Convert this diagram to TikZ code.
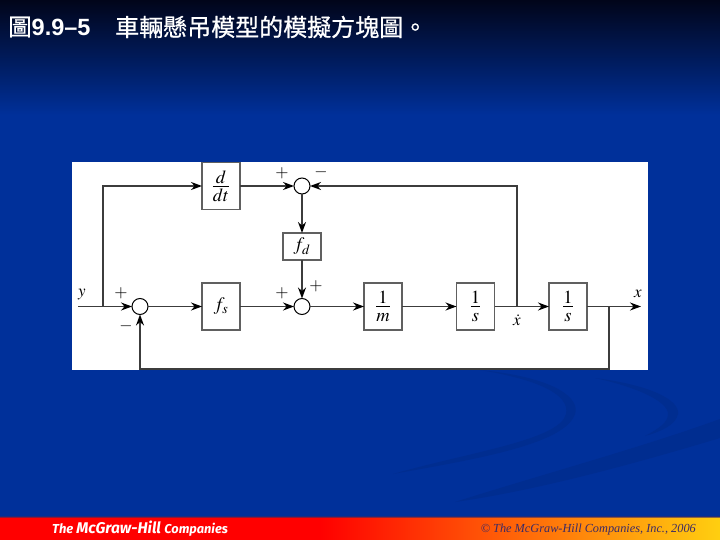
\documentclass[tikz,border=0pt]{standalone}
\usepackage{amsmath,amssymb}
\usepackage{mathptmx}
\usepackage{xcolor}
\usepackage{fontspec}
\newfontfamily\cjk[FakeBold=0.7]{Noto Sans CJK TC}
\newfontfamily\arialfont{Liberation Sans}
\newfontfamily\logofont{Fira Sans}
\newfontfamily\copyfont{Liberation Serif}
\usetikzlibrary{arrows.meta}
\definecolor{slideblue}{HTML}{00309A}
\definecolor{swooshblue}{HTML}{002D90}
\definecolor{slidenavy}{HTML}{01051A}
\definecolor{linegray}{HTML}{3C3C3C}
\definecolor{boxgray}{HTML}{606060}
\definecolor{barend}{HTML}{FFCF10}
\definecolor{copyink}{HTML}{3B2A66}
\tikzset{
    blockbox/.style={draw=boxgray, line width=1.2pt, fill=white, minimum width=38pt, minimum height=47pt, inner sep=0pt, outer sep=0pt, font=\fontsize{19}{22}\selectfont},
    fracbox/.style={blockbox, font=\fontsize{25}{28}\selectfont},
    sumcircle/.style={circle, draw=black, line width=1pt, fill=white, minimum size=16pt, inner sep=0pt, outer sep=0pt},
    sig/.style={draw=linegray, line width=1.6pt, -{Stealth[length=11pt,width=8pt,color=black]}},
    wire/.style={draw=linegray, line width=1.6pt},
    signtext/.style={font=\fontsize{17}{18}\selectfont, text=black, inner sep=0pt},
    varlabel/.style={font=\fontsize{17}{20}\selectfont, text=black, inner sep=0pt}
}
\begin{document}
\begin{tikzpicture}[x=1pt,y=-1pt]
    \useasboundingbox (0,0) rectangle (720,540);
    % slide background
    \fill[slideblue] (0,0) rectangle (720,540);
    \shade[top color=slidenavy, bottom color=slideblue] (0,0) rectangle (720,115);
    \fill[swooshblue] (480,370) .. controls (560,378) and (580,400) .. (575,414)
        .. controls (565,445) and (470,460) .. (393,474)
        .. controls (470,452) and (560,440) .. (566,414)
        .. controls (570,395) and (540,380) .. (480,370);
    \fill[swooshblue] (595,378) .. controls (650,385) and (680,400) .. (678,414)
        .. controls (676,425) and (660,432) .. (645,436)
        .. controls (660,428) and (668,422) .. (668,414)
        .. controls (668,402) and (640,388) .. (595,378);
    \fill[swooshblue] (720,419) .. controls (640,448) and (540,475) .. (455,502)
        .. controls (540,490) and (640,462) .. (720,438) -- cycle;
    % bottom bar
    \fill[red] (0,517) rectangle (320,540);
    \shade[left color=red, right color=barend] (320,517) rectangle (720,540);
    \fill[copyink, opacity=0.6] (0,516) rectangle (720,517.5);
    \node[font=\logofont\bfseries\itshape\fontsize{13}{15}\selectfont, text=white, anchor=west, inner sep=0pt] (logo) at (52,528.5) {The \fontsize{15.5}{15}\selectfont McGraw-Hill \fontsize{12.8}{15}\selectfont Companies};
    \node[font=\copyfont\itshape\fontsize{12.3}{14}\selectfont, text=copyink, anchor=east, inner sep=0pt] (copy) at (696,530) {© The McGraw-Hill Companies, Inc., 2006};
    % title
    \node[font=\fontsize{23.5}{26}\selectfont, text=white, anchor=west, inner sep=0pt] (title) at (8,27) {\cjk 圖\arialfont\bfseries\fontsize{23.5}{26}\selectfont 9.9–5};
    \node[font=\cjk\fontsize{24}{26}\selectfont, text=white, anchor=west, inner sep=0pt] (caption) at (115,27) {車輛懸吊模型的模擬方塊圖。};
    % white panel
    \fill[white] (72,162) rectangle (648,370);
    % blocks
    \node[fracbox] (ddt) at (221,186) {$\frac{d}{dt}$};
    \node[blockbox, minimum height=27pt] (fd) at (302,246.5) {$f_d$};
    \node[blockbox] (fs) at (221,306.5) {$f_s$};
    \node[fracbox] (mass) at (383,306.5) {$\frac{1}{m}$};
    \node[fracbox] (intv) at (475.5,306.5) {$\frac{1}{s}$};
    \node[fracbox] (intx) at (568,306.5) {$\frac{1}{s}$};
    \node[sumcircle] (sume) at (140,306.5) {};
    \node[sumcircle] (sumf) at (302,306.5) {};
    \node[sumcircle] (sumd) at (302,186) {};
    % branch points
    \coordinate (yin) at (78,306.5);
    \coordinate (ybr) at (103,306.5);
    \coordinate (vbr) at (517,306.5);
    \coordinate (xbr) at (609,306.5);
    \coordinate (xout) at (641,306.5);
    \coordinate (fbr) at (609,369);
    \coordinate (fbl) at (140,369);
    % signal lines
    \draw[wire] (yin) -- (ybr);
    \draw[sig] (ybr) -- (sume);
    \draw[sig] (ybr) |- (ddt);
    \draw[sig] (ddt) -- (sumd);
    \draw[sig] (sumd) -- (fd);
    \draw[sig] (fd) -- (sumf);
    \draw[sig] (sume) -- (fs);
    \draw[sig] (fs) -- (sumf);
    \draw[sig] (sumf) -- (mass);
    \draw[sig] (mass) -- (intv);
    \draw[sig] (intv) -- (intx);
    \draw[sig] (vbr) |- (sumd);
    \draw[sig] (intx) -- (xout);
    \draw[sig] (xbr) -- (fbr) -- (fbl) -- (sume);
    % signs
    \foreach \px/\py/\nm in {121/293/pa, 282/173/pb, 282/293/pc, 316/286/pd} {
        \node[signtext] (\nm) at (\px,\py) {$+$};
    }
    \foreach \px/\py/\nm in {126/326/ma, 321/172/mb} {
        \node[signtext] (\nm) at (\px,\py) {$-$};
    }
    \node[varlabel] (ylab) at (82,295) {$y$};
    \node[varlabel] (vlab) at (517,320) {$\dot{x}$};
    \node[varlabel] (xlab) at (638,294) {$x$};
\end{tikzpicture}
\end{document}
